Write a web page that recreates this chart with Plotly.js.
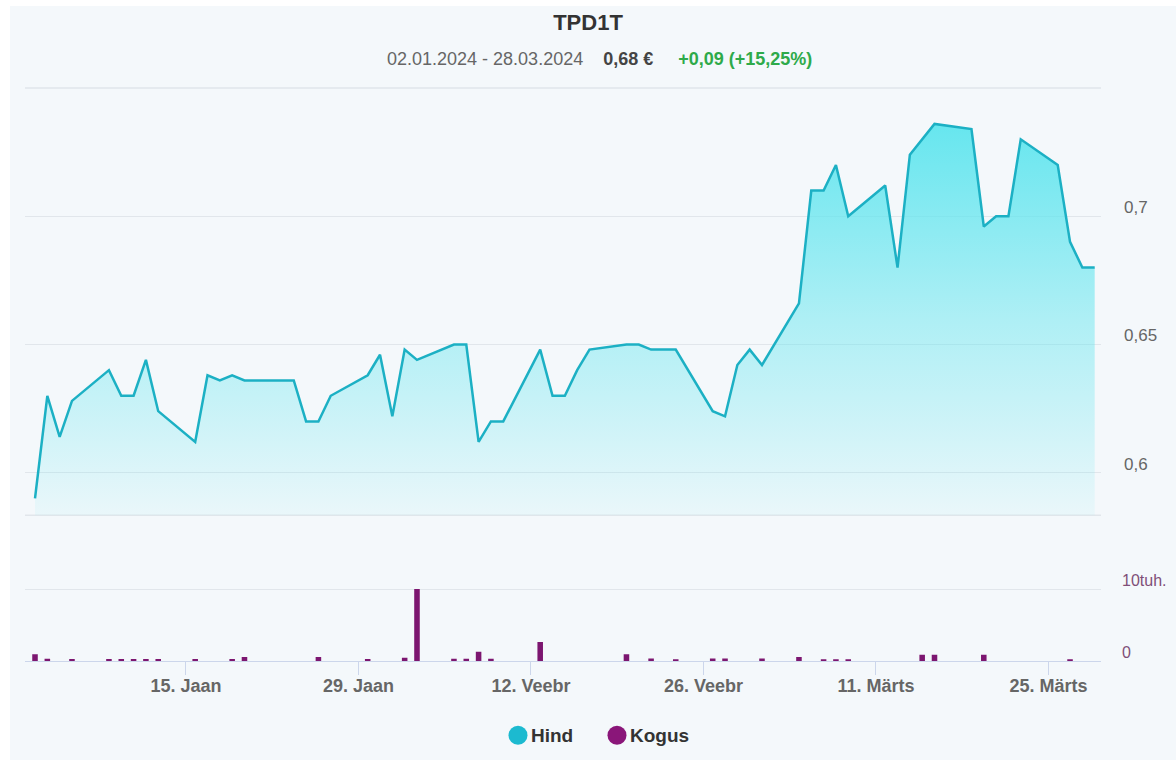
<!DOCTYPE html>
<html>
<head>
<meta charset="utf-8">
<script src="https://cdn.plot.ly/plotly-3.0.1.min.js"></script>
<style>
  html, body { margin: 0; padding: 0; background: #ffffff; }
  #chart { position: absolute; left: 10px; top: 6px; width: 1166px; height: 754px; }
</style>
</head>
<body>
<div id="chart"></div>
<script>
// ---- data ----
const dates = [
  '2024-01-02','2024-01-03','2024-01-04','2024-01-05','2024-01-08','2024-01-09','2024-01-10','2024-01-11','2024-01-12',
  '2024-01-15','2024-01-16','2024-01-17','2024-01-18','2024-01-19','2024-01-22','2024-01-23','2024-01-24','2024-01-25','2024-01-26',
  '2024-01-29','2024-01-30','2024-01-31','2024-02-01','2024-02-02','2024-02-05','2024-02-06','2024-02-07','2024-02-08','2024-02-09',
  '2024-02-12','2024-02-13','2024-02-14','2024-02-15','2024-02-16','2024-02-19','2024-02-20','2024-02-21','2024-02-22','2024-02-23',
  '2024-02-26','2024-02-27','2024-02-28','2024-02-29','2024-03-01','2024-03-04','2024-03-05','2024-03-06','2024-03-07','2024-03-08',
  '2024-03-11','2024-03-12','2024-03-13','2024-03-14','2024-03-15','2024-03-18','2024-03-19','2024-03-20','2024-03-21','2024-03-22',
  '2024-03-25','2024-03-26','2024-03-27','2024-03-28'
];
const prices = [
  0.590,0.630,0.614,0.628,0.640,0.630,0.630,0.644,0.624,
  0.612,0.638,0.636,0.638,0.636,0.636,0.636,0.620,0.620,0.630,
  0.638,0.646,0.622,0.648,0.644,0.650,0.650,0.612,0.620,0.620,
  0.648,0.630,0.630,0.640,0.648,0.650,0.650,0.648,0.648,0.648,
  0.624,0.622,0.642,0.648,0.642,0.666,0.710,0.710,0.720,0.700,
  0.712,0.680,0.724,0.730,0.736,0.734,0.696,0.700,0.700,0.730,
  0.720,0.690,0.680,0.680
];
const volumes = [
  950,300,0,280,280,280,280,280,280,
  280,0,0,280,550,0,0,0,550,0,
  280,0,0,450,10050,300,300,1300,300,0,
  2650,0,0,0,0,930,0,350,0,200,
  350,350,0,0,350,550,0,220,220,220,
  0,0,0,880,880,0,880,0,0,0,
  0,180,0,0
];
const tickDates = ['2024-01-15','2024-01-29','2024-02-12','2024-02-26','2024-03-11','2024-03-25'];
const tickLabels = ['15. Jaan','29. Jaan','12. Veebr','26. Veebr','11. Märts','25. Märts'];
const priceTicks = [0.6, 0.65, 0.7, 0.75];
const priceTickLabels = ['0,6', '0,65', '0,7', ''];
const volumeTicks = [0, 10000];
const volumeTickLabels = ['0', '10tuh.'];
const seriesNames = ['Hind', 'Kogus'];

// ---- styling ----
const FONT = '"Liberation Sans", Arial, Helvetica, sans-serif';
const BG = '#f4f8fb';
const GRID = '#e1e6eb';
const LINE = '#1cb0c4';
const BAR = '#7c1670';
const DAY = 86400000;
const tickOffsetMs = 18 * 3600000;
const tickVals = tickDates.map(d => new Date(d + 'T00:00:00Z').getTime() - tickOffsetMs);

const priceMin = 0.5834, priceMax = 0.75;

const traces = [
  {
    type: 'scatter', mode: 'lines', name: seriesNames[0],
    x: dates, y: prices, xaxis: 'x', yaxis: 'y',
    line: { color: LINE, width: 2.5 },
    fill: 'tozeroy',
    fillgradient: {
      type: 'vertical', start: priceMin, stop: Math.max(...prices),
      colorscale: [[0, 'rgba(95,229,238,0.07)'], [0.5, 'rgba(95,229,238,0.47)'], [1, 'rgba(95,229,238,0.95)']]
    },
    showlegend: false, hoverinfo: 'x+y'
  },
  {
    type: 'bar', name: seriesNames[1],
    x: dates, y: volumes, xaxis: 'x', yaxis: 'y2',
    width: 0.45 * DAY,
    marker: { color: BAR, line: { width: 0 } },
    showlegend: false
  }
];

// plot area geometry (div coordinates)
const W = 1166, H = 754;
const mL = 15, mR = 75, mT = 81.7, mB = 99.3;
const plotW = W - mL - mR, plotH = H - mT - mB;
const px = x => (x - 10 - mL) / plotW;          // page x -> paper x
const py = y => (H - mB - (y - 6)) / plotH;      // page y -> paper y

const layout = {
  width: W, height: H,
  margin: { l: mL, r: mR, t: mT, b: mB, pad: 0 },
  paper_bgcolor: BG, plot_bgcolor: BG,
  font: { family: FONT, color: '#666666' },
  showlegend: false,
  title: {
    text: '<b>TPD1T</b>',
    font: { family: FONT, size: 22, color: '#333333' },
    xref: 'container', x: 578 / W, xanchor: 'center',
    yref: 'container', y: 1 - 16 / H, yanchor: 'middle'
  },
  xaxis: {
    type: 'date', domain: [0, 1], anchor: 'y2',
    range: ['2024-01-01 04:30', '2024-03-28 12:18'],
    tickmode: 'array', tickvals: tickVals, ticktext: tickLabels,
    ticks: 'outside', ticklen: 13, tickwidth: 1, tickcolor: '#ccd6eb',
    ticklabelstandoff: -5,
    showline: true, linecolor: '#ccd6eb', linewidth: 1,
    showgrid: false, zeroline: false,
    tickfont: { family: FONT, size: 18, color: '#666666', weight: 'bold' }
  },
  yaxis: {
    domain: [(654.7 - 509) / plotH, 1], anchor: 'x', side: 'right',
    range: [priceMin, priceMax],
    tickmode: 'array', tickvals: priceTicks, ticktext: priceTickLabels,
    showgrid: true, gridcolor: GRID, gridwidth: 1, zeroline: false, showline: false,
    ticks: '', ticklabelstandoff: 22, ticklabelshift: -9,
    tickfont: { family: FONT, size: 17, color: '#666666' }
  },
  yaxis2: {
    domain: [0, (654.7 - 554) / plotH], anchor: 'x', side: 'right',
    range: [0, 14045],
    tickmode: 'array', tickvals: volumeTicks, ticktext: volumeTickLabels,
    showgrid: true, gridcolor: GRID, gridwidth: 1, zeroline: false, showline: false,
    ticks: '', ticklabelstandoff: 20, ticklabelshift: -9,
    tickfont: { family: FONT, size: 16, color: '#7f4f78' }
  },
  shapes: [
    { type: 'line', xref: 'x domain', yref: 'y domain', x0: 0, x1: 1, y0: 0, y1: 0,
      line: { color: GRID, width: 1.5 }, layer: 'below' },
    { type: 'line', xref: 'x domain', yref: 'y domain', x0: 0, x1: 1, y0: 1, y1: 1,
      line: { color: GRID, width: 1.5 }, layer: 'below' },
    { type: 'circle', xref: 'paper', yref: 'paper', xsizemode: 'pixel', ysizemode: 'pixel',
      xanchor: px(518), yanchor: py(735), x0: -9.5, x1: 9.5, y0: -9.5, y1: 9.5,
      fillcolor: '#1cbad0', line: { width: 0 } },
    { type: 'circle', xref: 'paper', yref: 'paper', xsizemode: 'pixel', ysizemode: 'pixel',
      xanchor: px(617), yanchor: py(735), x0: -9.5, x1: 9.5, y0: -9.5, y1: 9.5,
      fillcolor: '#8a1679', line: { width: 0 } }
  ],
  annotations: [
    { xref: 'paper', yref: 'paper', x: px(599), y: py(59), xanchor: 'center', yanchor: 'middle',
      showarrow: false,
      text: '<span style="color:#666666">02.01.2024 - 28.03.2024</span>&nbsp;&nbsp;&nbsp;&nbsp;<b><span style="color:#444444">0,68 €</span></b>&nbsp;&nbsp;&nbsp;&nbsp;&nbsp;<b><span style="color:#2eaa4a">+0,09 (+15,25%)</span></b>',
      font: { family: FONT, size: 18, color: '#666666' } },
    { xref: 'paper', yref: 'paper', x: px(529), y: py(735), xanchor: 'left', yanchor: 'middle',
      showarrow: false, text: '<b>' + seriesNames[0] + '</b>',
      font: { family: FONT, size: 19, color: '#333333' } },
    { xref: 'paper', yref: 'paper', x: px(628), y: py(735), xanchor: 'left', yanchor: 'middle',
      showarrow: false, text: '<b>' + seriesNames[1] + '</b>',
      font: { family: FONT, size: 19, color: '#333333' } }
  ]
};

Plotly.newPlot('chart', traces, layout, { displayModeBar: false, responsive: false });
</script>
</body>
</html>
